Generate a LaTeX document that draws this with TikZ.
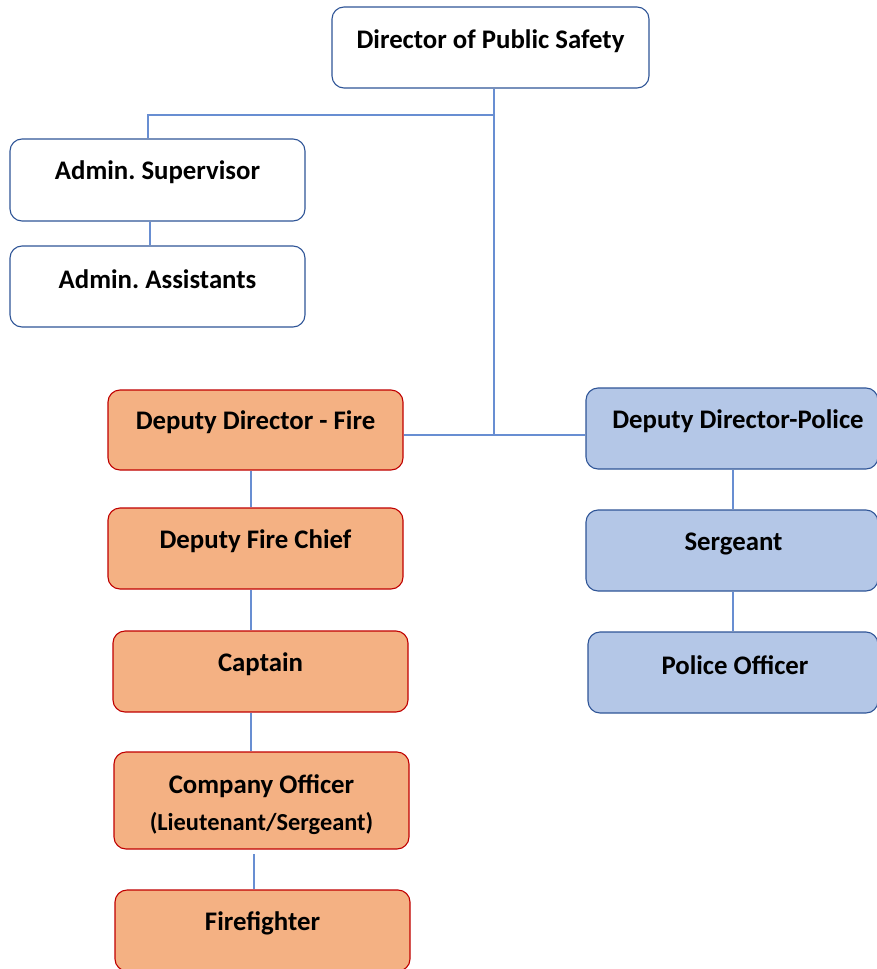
\documentclass[tikz,border=0pt]{standalone}
\usepackage{fontspec}
\setmainfont{Carlito}
\frenchspacing
\definecolor{conn}{RGB}{104,142,210}
\definecolor{bluedge}{RGB}{47,85,151}
\definecolor{firefill}{RGB}{244,177,131}
\definecolor{fireedge}{RGB}{192,0,0}
\definecolor{polfill}{RGB}{180,199,231}
\begin{document}
\begin{tikzpicture}[x=1pt,y=-1pt,
  box/.style={draw=bluedge, line width=1.1pt, rounded corners=12pt, inner sep=0pt, fill=white},
  firebox/.style={box, draw=fireedge, fill=firefill},
  polbox/.style={box, fill=polfill},
  txt/.style={font=\fontsize{26.8}{31}\selectfont\bfseries, inner sep=0pt, align=center, yshift=-1.5pt},
  small/.style={font=\fontsize{24.4}{28}\selectfont\bfseries, inner sep=0pt, yshift=-1.5pt},
  conn/.style={draw=conn, line width=1.1pt}]
\useasboundingbox (0,0) rectangle (877,969);
% boxes
\node[box, minimum width=317pt, minimum height=81pt] (dir) at (490.5,47.5) {};
\node[txt] at (490.5,40) {Director of Public Safety};
\node[box, minimum width=295pt, minimum height=82pt] (as) at (157.5,180) {};
\node[txt] at (157.5,171) {Admin. Supervisor};
\node[box, minimum width=295pt, minimum height=81pt] (aa) at (157.5,286.5) {};
\node[txt] at (157.5,278) {Admin. Assistants};
\node[firebox, minimum width=295pt, minimum height=80pt] (ddf) at (255.5,430) {};
\node[txt] at (255.5,421) {Deputy Director - Fire};
\node[firebox, minimum width=295pt, minimum height=81pt] (dfc) at (255.5,548.5) {};
\node[txt] at (255.5,540) {Deputy Fire Chief};
\node[firebox, minimum width=295pt, minimum height=81pt] (cap) at (260.5,671.5) {};
\node[txt] at (260.5,663) {Captain};
\node[firebox, minimum width=295pt, minimum height=97pt] (co) at (261.5,800.5) {};
\node[txt] at (261.5,785) {Company Officer};
\node[small] at (261.5,822) {(Lieutenant/Sergeant)};
\node[firebox, minimum width=295pt, minimum height=81pt] (ff) at (262.5,930.5) {};
\node[txt] at (262.5,922) {Firefighter};
\node[polbox, minimum width=292pt, minimum height=81pt] (ddp) at (732,428.5) {};
\node[txt] at (738,420) {Deputy Director-Police};
\node[polbox, minimum width=292pt, minimum height=81pt] (sgt) at (732,550.5) {};
\node[txt] at (733.5,542) {Sergeant};
\node[polbox, minimum width=290pt, minimum height=81pt] (po) at (733,672.5) {};
\node[txt] at (735,664) {Police Officer};
% junctions
\coordinate (j1) at (494,115);
\coordinate (j2) at (494,435);
\coordinate (xa) at (148,0);
\coordinate (xb) at (150,0);
\coordinate (xf) at (251,0);
\coordinate (xg) at (254,854);
\coordinate (xp) at (733,0);
% connectors
\draw[conn] (dir.south -| j1) -- (j2);
\draw[conn] (j1) -| (as.north -| xa);
\draw[conn] (as.south -| xb) -- (aa.north -| xb);
\draw[conn] (ddf.east |- j2) -- (ddp.west |- j2);
\draw[conn] (ddf.south -| xf) -- (dfc.north -| xf);
\draw[conn] (dfc.south -| xf) -- (cap.north -| xf);
\draw[conn] (cap.south -| xf) -- (co.north -| xf);
\draw[conn] (xg) -- (ff.north -| xg);
\draw[conn] (ddp.south -| xp) -- (sgt.north -| xp);
\draw[conn] (sgt.south -| xp) -- (po.north -| xp);
\end{tikzpicture}
\end{document}
